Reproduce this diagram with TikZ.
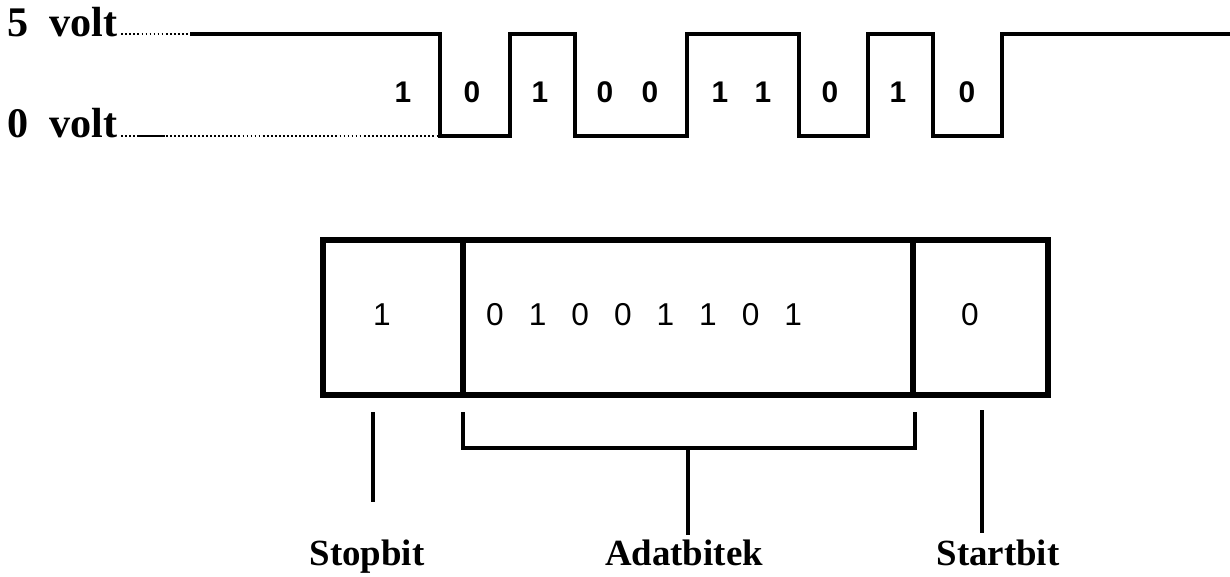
\documentclass[tikz,border=0pt]{standalone}
\usepackage{fontspec}
\setmainfont{Liberation Serif}
\setsansfont{Liberation Sans}
\usetikzlibrary{positioning}

\begin{document}
\begin{tikzpicture}[x=0.02cm, y=-0.02cm,
  wave/.style={line width=2.5pt, line join=miter},
  framebox/.style={draw, line width=3.4pt, minimum height=3.1cm, inner sep=0pt, outer sep=0pt},
  leadline/.style={line width=2.3pt},
  guideline/.style={line width=1pt, dash pattern=on 1pt off 1.3pt},
  voltlbl/.style={font=\fontsize{24}{28}\selectfont\bfseries, anchor=base west, inner sep=0pt},
  bitlbl/.style={font=\fontsize{17}{20}\selectfont\sffamily\bfseries, anchor=base},
  celltxt/.style={font=\fontsize{18}{21}\selectfont\sffamily, anchor=base},
  taglbl/.style={font=\fontsize{21}{25}\selectfont\bfseries, anchor=base}]

\useasboundingbox (0,0) rectangle (1230,577);

% voltage levels
\node[voltlbl] (high) at (7,37) {5\enspace volt};
\node[voltlbl] (low) at (7,138) {0\enspace volt};

\coordinate (hi0) at (190,34);
\coordinate (lo0) at (440,136);

\draw[guideline] ([xshift=2pt]high.base east |- hi0) -- (hi0);
\draw[guideline] ([xshift=2pt]low.base east |- lo0) -- (lo0);
\draw[line width=1.4pt] (137,136) -- (165,136);

% the serial signal
\draw[wave] (hi0) -| (lo0) -| (510,34) -| (575,136) -| (687,34)
  -| (799,136) -| (868,34) -| (933,136) -| (1002,34) -- (1230,34);

\foreach \x/\b in {403/1, 472/0, 540/1, 605/0, 650/0, 720/1, 763/1, 830/0, 898/1, 967/0}
  \node[bitlbl] (b\x) at (\x,103) {\b};

% frame
\node[framebox, minimum width=2.8cm] (stopbox) at (393,317.5) {};
\node[framebox, minimum width=9cm, anchor=west] (databox) at (stopbox.east) {};
\node[framebox, minimum width=2.7cm, anchor=west] (startbox) at (databox.east) {};

\node[celltxt] (stopbit) at (382,326) {1};
\foreach \i/\b in {0/0, 1/1, 2/0, 3/0, 4/1, 5/1, 6/0, 7/1}
  \node[celltxt] (d\i) at (495+42.6*\i,326) {\b};
\node[celltxt] (startbit) at (970,326) {0};

% labels underneath
\node[taglbl] (stoplbl) at (367,565) {Stopbit};
\node[taglbl] (datalbl) at (684,565) {Adatbitek};
\node[taglbl] (startlbl) at (998,565) {Startbit};

\coordinate (stoptop) at (373,412);
\coordinate (stopend) at (373,502);
\coordinate (dataleft) at (463,412);
\coordinate (dataright) at (915,412);
\coordinate (datamid) at (688,448);
\coordinate (dataend) at (688,535);
\coordinate (starttop) at (982,410);
\coordinate (startend) at (982,533);

\draw[leadline] (stoptop) -- (stopend);
\draw[leadline] (dataleft) |- (datamid) -| (dataright);
\draw[leadline] (datamid) -- (dataend);
\draw[leadline] (starttop) -- (startend);

\end{tikzpicture}
\end{document}
